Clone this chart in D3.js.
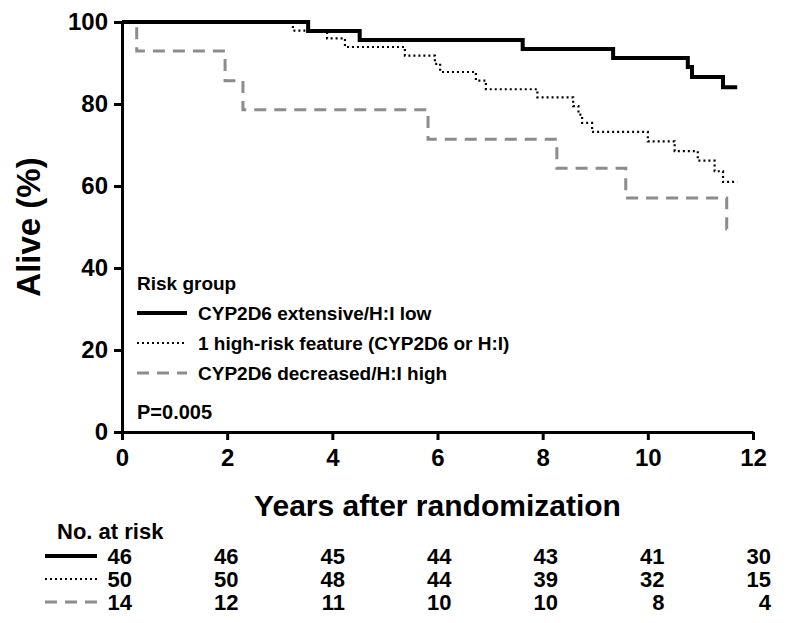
<!DOCTYPE html>
<html>
<head>
<meta charset="utf-8">
<script src="https://cdn.jsdelivr.net/npm/d3@7"></script>
<style>
  body { margin: 0; background: #fff; }
  svg text { font-family: "Liberation Sans", Arial, sans-serif; font-weight: bold; fill: #000; }
</style>
</head>
<body>
<div id="chart"></div>
<script>
// survival curves (years, % alive)
const timesSolid = [0, 3.54, 4.52, 7.62, 9.34, 10.76, 10.84, 11.43, 11.7];
const survSolid  = [100, 97.8, 95.6, 93.4, 91.2, 89.0, 86.6, 84.1, 84.1];

const timesDotted = [0, 3.25, 3.9, 4.24, 5.38, 5.95, 6.05, 6.73, 6.92, 7.9, 8.58, 8.68, 8.75, 8.94, 10.0, 10.51, 10.95, 11.27, 11.43, 11.7];
const survDotted  = [100, 97.9, 96.0, 93.9, 91.8, 89.8, 87.8, 85.7, 83.6, 81.6, 79.5, 77.4, 75.4, 73.2, 70.9, 68.5, 66.2, 63.6, 61.0, 61.0];

const timesDashed = [0, 0.28, 1.96, 2.30, 5.82, 8.27, 9.58, 11.5, 11.63];
const survDashed  = [100, 92.9, 85.7, 78.6, 71.4, 64.3, 57.1, 49.5, 49.5];

const groupNames = ["CYP2D6 extensive/H:I low", "1 high-risk feature (CYP2D6 or H:I)", "CYP2D6 decreased/H:I high"];

// number at risk
const riskTimes  = [0, 2, 4, 6, 8, 10, 12];
const riskSolid  = [46, 46, 45, 44, 43, 41, 30];
const riskDotted = [50, 50, 48, 44, 39, 32, 15];
const riskDashed = [14, 12, 11, 10, 10, 8, 4];

const xTicks = [0, 2, 4, 6, 8, 10, 12];
const yTicks = [0, 20, 40, 60, 80, 100];

const styles = [
  {stroke: "#000", width: 4, dash: null},
  {stroke: "#000", width: 2.2, dash: "2,3"},
  {stroke: "#8c8c8c", width: 3, dash: "12,8"}
];

const svg = d3.select("#chart").append("svg")
  .attr("width", 788)
  .attr("height", 623);

const x = d3.scaleLinear().domain([0, 12]).range([122, 753]);
const y = d3.scaleLinear().domain([0, 100]).range([432, 22]);

// axes
const xAxis = svg.append("g")
  .attr("transform", `translate(0,${y(0)})`)
  .call(d3.axisBottom(x).tickValues(xTicks).tickSize(8).tickSizeOuter(0).tickPadding(9));
const yAxis = svg.append("g")
  .attr("transform", `translate(${x(0)},0)`)
  .call(d3.axisLeft(y).tickValues(yTicks).tickSize(8).tickSizeOuter(0).tickPadding(6));

[xAxis, yAxis].forEach(g => {
  g.selectAll("path, line").attr("stroke", "#000").attr("stroke-width", 3);
  g.selectAll("text").style("font-size", "24px");
});

// curves
const series = [
  timesSolid.map((t, i) => [t, survSolid[i]]),
  timesDotted.map((t, i) => [t, survDotted[i]]),
  timesDashed.map((t, i) => [t, survDashed[i]])
];
const line = d3.line().x(d => x(d[0])).y(d => y(d[1])).curve(d3.curveStepAfter);

// draw dashed first, solid last on top
[2, 1, 0].forEach(k => {
  svg.append("path")
    .datum(series[k])
    .attr("fill", "none")
    .attr("stroke", styles[k].stroke)
    .attr("stroke-width", styles[k].width)
    .attr("stroke-dasharray", styles[k].dash)
    .attr("d", line);
});

// axis titles
svg.append("text")
  .attr("transform", `translate(40,${(y(0) + y(100)) / 2}) rotate(-90)`)
  .attr("text-anchor", "middle")
  .style("font-size", "33px")
  .text("Alive (%)");

svg.append("text")
  .attr("x", (x(0) + x(12)) / 2)
  .attr("y", 516)
  .attr("text-anchor", "middle")
  .style("font-size", "30px")
  .text("Years after randomization");

// legend
const legend = svg.append("g");
legend.append("text").attr("x", 137).attr("y", 290).style("font-size", "19px").text("Risk group");
groupNames.forEach((name, i) => {
  const ly = 313 + i * 30;
  legend.append("line")
    .attr("x1", 137).attr("x2", 187).attr("y1", ly).attr("y2", ly)
    .attr("stroke", styles[i].stroke)
    .attr("stroke-width", styles[i].width)
    .attr("stroke-dasharray", styles[i].dash);
  legend.append("text").attr("x", 198).attr("y", ly + 7).style("font-size", "19px").text(name);
});
legend.append("text").attr("x", 137).attr("y", 419).style("font-size", "20px").text("P=0.005");

// number at risk table
const col = d3.scaleLinear().domain([0, 12]).range([132, 771]);
svg.append("text").attr("x", 57).attr("y", 539).style("font-size", "22px").text("No. at risk");
[riskSolid, riskDotted, riskDashed].forEach((vals, i) => {
  const ry = 556 + i * 23;
  svg.append("line")
    .attr("x1", 45).attr("x2", 97).attr("y1", ry).attr("y2", ry)
    .attr("stroke", styles[i].stroke)
    .attr("stroke-width", i === 1 ? 2 : styles[i].width)
    .attr("stroke-dasharray", styles[i].dash);
  svg.selectAll(null)
    .data(vals)
    .join("text")
    .attr("x", (d, j) => col(riskTimes[j]))
    .attr("y", ry + 8)
    .attr("text-anchor", "end")
    .style("font-size", "22px")
    .text(d => d);
});
</script>
</body>
</html>
